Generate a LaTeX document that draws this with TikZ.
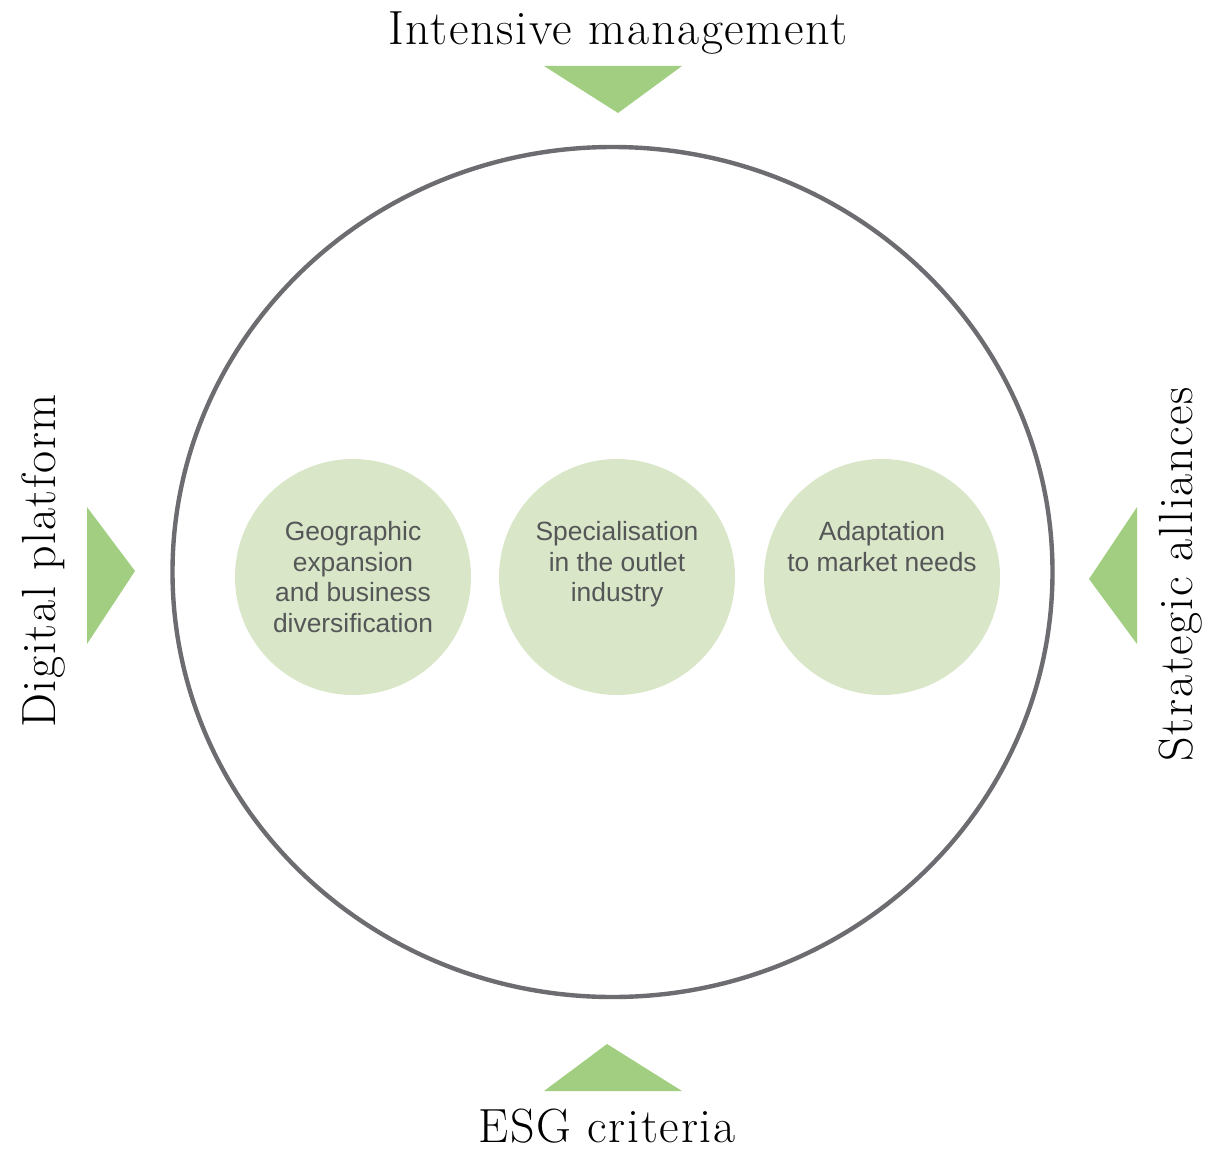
\documentclass[tikz,border=0pt]{standalone}
\usepackage{fontspec}
\setsansfont{Liberation Sans}
\newfontfamily\drivefont[LetterSpace=3.5]{Latin Modern Roman}
\definecolor{leaf}{HTML}{A2CE82}
\definecolor{pale}{HTML}{D9E6C8}
\definecolor{rim}{HTML}{6D6C70}
\definecolor{ink}{HTML}{555658}

\tikzset{
	pillar/.style={circle,fill=pale,minimum size=118pt,inner sep=0pt},
	blurb/.style={anchor=north,align=center,inner sep=0pt,text=ink,
		font=\sffamily\fontsize{13.2}{15.3}\selectfont},
	driver/.style={anchor=base,inner sep=0pt,
		font=\drivefont\fontsize{24}{24}\selectfont},
	wedge/.style={fill=leaf}
}

\begin{document}
\begin{tikzpicture}[x=0.5pt,y=-0.5pt]
	\useasboundingbox (0,0) rectangle (1208,1160);

	\draw[rim,line width=2.2pt] (612.5,572) ellipse [x radius=440,y radius=425];

	% pillars
	\node[pillar] (geo)   at (353,577) {};
	\node[pillar] (spec)  at (617,577) {};
	\node[pillar] (adapt) at (882,577) {};
	\node[blurb] (geotxt)   at (353,521) {Geographic\\expansion\\and business\\diversification};
	\node[blurb] (spectxt)  at (617,521) {Specialisation\\in the outlet\\industry};
	\node[blurb] (adapttxt) at (882,521) {Adaptation\\to market needs};

	% drivers and their wedges
	\node[driver] (top) at (618,45) {Intensive management};
	\node[driver] (bot) at (607,1142) {ESG criteria};
	\node[driver,rotate=90] (lft) at (55,561) {Digital platform};
	\node[driver,rotate=90] (rgt) at (1192,574) {Strategic alliances};

	\fill[wedge] (544,66) -- (682,66) -- (618,113) -- cycle;
	\fill[wedge] (544,1091) -- (682,1091) -- (607,1044) -- cycle;
	\fill[wedge] (87,507) -- (87,644) -- (135,571) -- cycle;
	\fill[wedge] (1137,507) -- (1137,644) -- (1089,579) -- cycle;
\end{tikzpicture}
\end{document}
